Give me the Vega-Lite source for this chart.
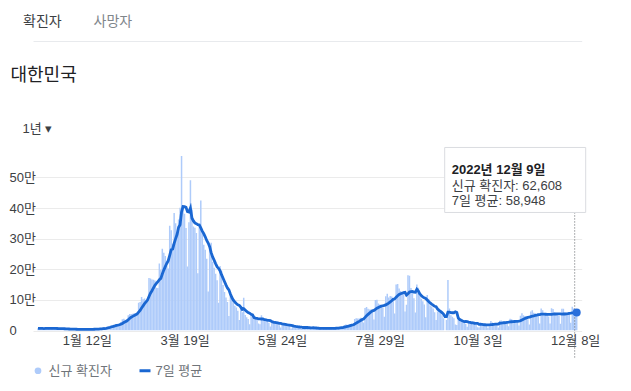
{
"$schema": "https://vega.github.io/schema/vega-lite/v6.json",
"width": 548.7, "height": 174.5,
"autosize": {"type": "none"},
"padding": {"left": 33, "top": 156, "right": 49.3, "bottom": 60.5},
"background": "white",
"config": {"view": {"stroke": null}, "font": "Liberation Sans, Noto Sans CJK KR, sans-serif"},
"title": {"text": "확진자", "anchor": "start", "frame": "group", "dx": -10, "offset": -15, "fontSize": 14, "fontWeight": "normal", "color": "#3c4043"},
"data": {"values": [
{"d":"2021-12-10","n":7022},{"d":"2021-12-11","n":7102},{"d":"2021-12-12","n":6689},{"d":"2021-12-13","n":5817},{"d":"2021-12-14","n":5567},{"d":"2021-12-15","n":7850},{"d":"2021-12-16","n":7622},{"d":"2021-12-17","n":7435},{"d":"2021-12-18","n":7314},{"d":"2021-12-19","n":6236},{"d":"2021-12-20","n":5318},{"d":"2021-12-21","n":5202},{"d":"2021-12-22","n":7456},{"d":"2021-12-23","n":6919},{"d":"2021-12-24","n":6233},{"d":"2021-12-25","n":5842},{"d":"2021-12-26","n":5419},{"d":"2021-12-27","n":4207},{"d":"2021-12-28","n":3865},{"d":"2021-12-29","n":5409},{"d":"2021-12-30","n":5037},{"d":"2021-12-31","n":4875},
{"d":"2022-01-01","n":4416},{"d":"2022-01-02","n":3833},{"d":"2022-01-03","n":3129},{"d":"2022-01-04","n":3024},{"d":"2022-01-05","n":4444},{"d":"2022-01-06","n":4126},{"d":"2022-01-07","n":3713},{"d":"2022-01-08","n":3511},{"d":"2022-01-09","n":3376},{"d":"2022-01-10","n":3005},{"d":"2022-01-11","n":3097},{"d":"2022-01-12","n":4388},{"d":"2022-01-13","n":4167},{"d":"2022-01-14","n":4542},{"d":"2022-01-15","n":4194},{"d":"2022-01-16","n":4419},{"d":"2022-01-17","n":3857},{"d":"2022-01-18","n":4071},{"d":"2022-01-19","n":5805},{"d":"2022-01-20","n":6603},{"d":"2022-01-21","n":6769},{"d":"2022-01-22","n":7009},{"d":"2022-01-23","n":7630},{"d":"2022-01-24","n":7513},{"d":"2022-01-25","n":8571},{"d":"2022-01-26","n":13012},{"d":"2022-01-27","n":14518},{"d":"2022-01-28","n":16096},{"d":"2022-01-29","n":17542},{"d":"2022-01-30","n":17528},{"d":"2022-01-31","n":18342},
{"d":"2022-02-01","n":20270},{"d":"2022-02-02","n":18343},{"d":"2022-02-03","n":22907},{"d":"2022-02-04","n":27443},{"d":"2022-02-05","n":36362},{"d":"2022-02-06","n":38691},{"d":"2022-02-07","n":35286},{"d":"2022-02-08","n":36719},{"d":"2022-02-09","n":49567},{"d":"2022-02-10","n":54122},{"d":"2022-02-11","n":53926},{"d":"2022-02-12","n":54941},{"d":"2022-02-13","n":56431},{"d":"2022-02-14","n":54619},{"d":"2022-02-15","n":57177},{"d":"2022-02-16","n":90443},{"d":"2022-02-17","n":93135},{"d":"2022-02-18","n":109831},{"d":"2022-02-19","n":102211},{"d":"2022-02-20","n":104829},{"d":"2022-02-21","n":95362},{"d":"2022-02-22","n":99573},{"d":"2022-02-23","n":171452},{"d":"2022-02-24","n":170016},{"d":"2022-02-25","n":166209},{"d":"2022-02-26","n":165890},{"d":"2022-02-27","n":163565},{"d":"2022-02-28","n":139626},
{"d":"2022-03-01","n":138993},{"d":"2022-03-02","n":219241},{"d":"2022-03-03","n":198803},{"d":"2022-03-04","n":266853},{"d":"2022-03-05","n":254327},{"d":"2022-03-06","n":243628},{"d":"2022-03-07","n":210716},{"d":"2022-03-08","n":202721},{"d":"2022-03-09","n":342446},{"d":"2022-03-10","n":327549},{"d":"2022-03-11","n":282987},{"d":"2022-03-12","n":383665},{"d":"2022-03-13","n":350190},{"d":"2022-03-14","n":309790},{"d":"2022-03-15","n":362338},{"d":"2022-03-16","n":400741},{"d":"2022-03-17","n":621328},{"d":"2022-03-18","n":407017},{"d":"2022-03-19","n":381454},{"d":"2022-03-20","n":334708},{"d":"2022-03-21","n":209169},{"d":"2022-03-22","n":353980},{"d":"2022-03-23","n":490881},{"d":"2022-03-24","n":395598},{"d":"2022-03-25","n":339514},{"d":"2022-03-26","n":335580},{"d":"2022-03-27","n":318130},{"d":"2022-03-28","n":187213},{"d":"2022-03-29","n":347554},{"d":"2022-03-30","n":424641},{"d":"2022-03-31","n":320743},
{"d":"2022-04-01","n":280273},{"d":"2022-04-02","n":264171},{"d":"2022-04-03","n":234301},{"d":"2022-04-04","n":127190},{"d":"2022-04-05","n":266135},{"d":"2022-04-06","n":286294},{"d":"2022-04-07","n":224820},{"d":"2022-04-08","n":205333},{"d":"2022-04-09","n":185566},{"d":"2022-04-10","n":164481},{"d":"2022-04-11","n":90928},{"d":"2022-04-12","n":210755},{"d":"2022-04-13","n":195419},{"d":"2022-04-14","n":148443},{"d":"2022-04-15","n":125846},{"d":"2022-04-16","n":107916},{"d":"2022-04-17","n":93001},{"d":"2022-04-18","n":47743},{"d":"2022-04-19","n":118504},{"d":"2022-04-20","n":111319},{"d":"2022-04-21","n":90867},{"d":"2022-04-22","n":81058},{"d":"2022-04-23","n":75449},{"d":"2022-04-24","n":64725},{"d":"2022-04-25","n":34370},{"d":"2022-04-26","n":76787},{"d":"2022-04-27","n":60000},{"d":"2022-04-28","n":107000},{"d":"2022-04-29","n":50568},{"d":"2022-04-30","n":43286},
{"d":"2022-05-01","n":37771},{"d":"2022-05-02","n":20084},{"d":"2022-05-03","n":51131},{"d":"2022-05-04","n":49064},{"d":"2022-05-05","n":42296},{"d":"2022-05-06","n":40064},{"d":"2022-05-07","n":38000},{"d":"2022-05-08","n":23000},{"d":"2022-05-09","n":20601},{"d":"2022-05-10","n":49933},{"d":"2022-05-11","n":43925},{"d":"2022-05-12","n":35904},{"d":"2022-05-13","n":29581},{"d":"2022-05-14","n":27446},{"d":"2022-05-15","n":25434},{"d":"2022-05-16","n":13296},{"d":"2022-05-17","n":32451},{"d":"2022-05-18","n":28130},{"d":"2022-05-19","n":26714},{"d":"2022-05-20","n":23956},{"d":"2022-05-21","n":22333},{"d":"2022-05-22","n":17191},{"d":"2022-05-23","n":9975},{"d":"2022-05-24","n":23945},{"d":"2022-05-25","n":23956},{"d":"2022-05-26","n":18816},{"d":"2022-05-27","n":16584},{"d":"2022-05-28","n":15797},{"d":"2022-05-29","n":14325},{"d":"2022-05-30","n":6126},{"d":"2022-05-31","n":16588},
{"d":"2022-06-01","n":13358},{"d":"2022-06-02","n":9896},{"d":"2022-06-03","n":12542},{"d":"2022-06-04","n":12046},{"d":"2022-06-05","n":9830},{"d":"2022-06-06","n":5022},{"d":"2022-06-07","n":6171},{"d":"2022-06-08","n":13358},{"d":"2022-06-09","n":12155},{"d":"2022-06-10","n":10174},{"d":"2022-06-11","n":8441},{"d":"2022-06-12","n":7382},{"d":"2022-06-13","n":3828},{"d":"2022-06-14","n":9437},{"d":"2022-06-15","n":9315},{"d":"2022-06-16","n":8435},{"d":"2022-06-17","n":7197},{"d":"2022-06-18","n":6068},{"d":"2022-06-19","n":5940},{"d":"2022-06-20","n":3533},{"d":"2022-06-21","n":9305},{"d":"2022-06-22","n":9341},{"d":"2022-06-23","n":7493},{"d":"2022-06-24","n":7224},{"d":"2022-06-25","n":6240},{"d":"2022-06-26","n":6252},{"d":"2022-06-27","n":3423},{"d":"2022-06-28","n":9896},{"d":"2022-06-29","n":10463},{"d":"2022-06-30","n":9595},
{"d":"2022-07-01","n":10715},{"d":"2022-07-02","n":10059},{"d":"2022-07-03","n":9528},{"d":"2022-07-04","n":6254},{"d":"2022-07-05","n":18147},{"d":"2022-07-06","n":19371},{"d":"2022-07-07","n":18511},{"d":"2022-07-08","n":19323},{"d":"2022-07-09","n":20286},{"d":"2022-07-10","n":20410},{"d":"2022-07-11","n":12693},{"d":"2022-07-12","n":37360},{"d":"2022-07-13","n":40266},{"d":"2022-07-14","n":39196},{"d":"2022-07-15","n":38882},{"d":"2022-07-16","n":41310},{"d":"2022-07-17","n":40342},{"d":"2022-07-18","n":26299},{"d":"2022-07-19","n":73589},{"d":"2022-07-20","n":76402},{"d":"2022-07-21","n":71170},{"d":"2022-07-22","n":68632},{"d":"2022-07-23","n":68551},{"d":"2022-07-24","n":65433},{"d":"2022-07-25","n":35883},{"d":"2022-07-26","n":99327},{"d":"2022-07-27","n":100285},{"d":"2022-07-28","n":88384},{"d":"2022-07-29","n":85320},{"d":"2022-07-30","n":82002},{"d":"2022-07-31","n":73589},
{"d":"2022-08-01","n":44689},{"d":"2022-08-02","n":111789},{"d":"2022-08-03","n":119922},{"d":"2022-08-04","n":107894},{"d":"2022-08-05","n":112901},{"d":"2022-08-06","n":110666},{"d":"2022-08-07","n":105507},{"d":"2022-08-08","n":55292},{"d":"2022-08-09","n":149897},{"d":"2022-08-10","n":151792},{"d":"2022-08-11","n":137241},{"d":"2022-08-12","n":128714},{"d":"2022-08-13","n":124592},{"d":"2022-08-14","n":119603},{"d":"2022-08-15","n":62078},{"d":"2022-08-16","n":84128},{"d":"2022-08-17","n":180803},{"d":"2022-08-18","n":178574},{"d":"2022-08-19","n":138812},{"d":"2022-08-20","n":128714},{"d":"2022-08-21","n":105507},{"d":"2022-08-22","n":59046},{"d":"2022-08-23","n":150267},{"d":"2022-08-24","n":139339},{"d":"2022-08-25","n":113371},{"d":"2022-08-26","n":103961},{"d":"2022-08-27","n":95604},{"d":"2022-08-28","n":85295},{"d":"2022-08-29","n":43142},{"d":"2022-08-30","n":115615},{"d":"2022-08-31","n":103961},
{"d":"2022-09-01","n":81573},{"d":"2022-09-02","n":78000},{"d":"2022-09-03","n":72000},{"d":"2022-09-04","n":60000},{"d":"2022-09-05","n":34000},{"d":"2022-09-06","n":62000},{"d":"2022-09-07","n":72000},{"d":"2022-09-08","n":58000},{"d":"2022-09-09","n":50000},{"d":"2022-09-10","n":40000},{"d":"2022-09-11","n":0},{"d":"2022-09-12","n":34000},{"d":"2022-09-13","n":165000},{"d":"2022-09-14","n":72000},{"d":"2022-09-15","n":50000},{"d":"2022-09-16","n":45000},{"d":"2022-09-17","n":40000},{"d":"2022-09-18","n":20000},{"d":"2022-09-19","n":18000},{"d":"2022-09-20","n":40000},{"d":"2022-09-21","n":36000},{"d":"2022-09-22","n":33000},{"d":"2022-09-23","n":30000},{"d":"2022-09-24","n":28000},{"d":"2022-09-25","n":22000},{"d":"2022-09-26","n":12000},{"d":"2022-09-27","n":30000},{"d":"2022-09-28","n":29000},{"d":"2022-09-29","n":26000},{"d":"2022-09-30","n":25000},
{"d":"2022-10-01","n":22000},{"d":"2022-10-02","n":19000},{"d":"2022-10-03","n":11000},{"d":"2022-10-04","n":10000},{"d":"2022-10-05","n":27000},{"d":"2022-10-06","n":24000},{"d":"2022-10-07","n":20000},{"d":"2022-10-08","n":20000},{"d":"2022-10-09","n":17000},{"d":"2022-10-10","n":9000},{"d":"2022-10-11","n":14000},{"d":"2022-10-12","n":31000},{"d":"2022-10-13","n":26000},{"d":"2022-10-14","n":24000},{"d":"2022-10-15","n":23000},{"d":"2022-10-16","n":20000},{"d":"2022-10-17","n":10000},{"d":"2022-10-18","n":32000},{"d":"2022-10-19","n":33000},{"d":"2022-10-20","n":30000},{"d":"2022-10-21","n":29000},{"d":"2022-10-22","n":28000},{"d":"2022-10-23","n":24000},{"d":"2022-10-24","n":14000},{"d":"2022-10-25","n":38000},{"d":"2022-10-26","n":37000},{"d":"2022-10-27","n":33000},{"d":"2022-10-28","n":32000},{"d":"2022-10-29","n":30000},{"d":"2022-10-30","n":27000},{"d":"2022-10-31","n":16000},
{"d":"2022-11-01","n":48000},{"d":"2022-11-02","n":56000},{"d":"2022-11-03","n":50000},{"d":"2022-11-04","n":47000},{"d":"2022-11-05","n":45000},{"d":"2022-11-06","n":37000},{"d":"2022-11-07","n":20000},{"d":"2022-11-08","n":62000},{"d":"2022-11-09","n":66000},{"d":"2022-11-10","n":58000},{"d":"2022-11-11","n":56000},{"d":"2022-11-12","n":53000},{"d":"2022-11-13","n":47000},{"d":"2022-11-14","n":23000},{"d":"2022-11-15","n":72000},{"d":"2022-11-16","n":66000},{"d":"2022-11-17","n":56000},{"d":"2022-11-18","n":55000},{"d":"2022-11-19","n":51000},{"d":"2022-11-20","n":46000},{"d":"2022-11-21","n":23000},{"d":"2022-11-22","n":73000},{"d":"2022-11-23","n":70000},{"d":"2022-11-24","n":59000},{"d":"2022-11-25","n":55000},{"d":"2022-11-26","n":52000},{"d":"2022-11-27","n":47000},{"d":"2022-11-28","n":22000},{"d":"2022-11-29","n":71000},{"d":"2022-11-30","n":71000},
{"d":"2022-12-01","n":59000},{"d":"2022-12-02","n":58000},{"d":"2022-12-03","n":57079},{"d":"2022-12-04","n":55464},{"d":"2022-12-05","n":25667},{"d":"2022-12-06","n":77604},{"d":"2022-12-07","n":71476},{"d":"2022-12-08","n":62738},{"d":"2022-12-09","n":62608}
]},
"transform": [{"window": [{"op": "mean", "field": "n", "as": "a"}], "frame": [-6, 0], "sort": [{"field": "d"}]}],
"layer": [
{"mark": {"type": "bar", "width": 1.5, "clip": true},
 "encoding": {
  "x": {"field": "d", "type": "temporal",
        "scale": {"type": "utc", "domain": [{"year": 2021, "month": 12, "date": 10, "utc": true}, {"year": 2022, "month": 12, "date": 9, "utc": true}]},
        "axis": {"orient": "bottom", "values": [{"year": 2022, "month": 1, "date": 12, "utc": true}, {"year": 2022, "month": 3, "date": 19, "utc": true}, {"year": 2022, "month": 5, "date": 24, "utc": true}, {"year": 2022, "month": 7, "date": 29, "utc": true}, {"year": 2022, "month": 10, "date": 3, "utc": true}, {"year": 2022, "month": 12, "date": 8, "utc": true}],
                 "labelExpr": "utcFormat(datum.value, '%-m월 %-d일')", "ticks": false, "tickSize": 0, "domain": false, "grid": false, "labelPadding": 4, "labelFontSize": 13, "labelColor": "#3c4043", "labelFlush": false, "labelOverlap": false,
                 "title": "대한민국", "titleX": -23, "titleY": -250.5, "titleAlign": "left", "titleAngle": 0, "titleBaseline": "alphabetic", "titleFontSize": 18, "titleFontWeight": "normal", "titleColor": "#202124"}},
  "y": {"field": "n", "type": "quantitative", "title": "1년 ▾",
        "scale": {"domain": [0, 570000], "nice": false},
        "axis": {"orient": "left", "values": [0, 100000, 200000, 300000, 400000, 500000], "labelExpr": "datum.value == 0 ? '0' : (datum.value / 10000) + '만'", "labelOverlap": false, "ticks": false, "tickSize": 0, "domain": false, "grid": true, "gridColor": "#ebebeb", "labelAlign": "left", "labelPadding": 24, "labelBaseline": "middle", "labelFontSize": 13, "labelColor": "#3c4043",
                 "titleX": -11, "titleY": -24, "titleAngle": 0, "titleAlign": "left", "titleBaseline": "alphabetic", "titleFontSize": 13, "titleFontWeight": "normal", "titleColor": "#3c4043"}},
  "color": {"datum": "신규 확진자", "type": "nominal",
            "scale": {"domain": ["신규 확진자", "7일 평균"], "range": ["#aecbfa", "#1a67d2"]},
            "legend": {"orient": "none", "legendX": -1.5, "legendY": 208, "direction": "horizontal", "title": null, "labelFontSize": 13, "labelColor": "#70757a", "symbolSize": 121, "symbolType": "circle", "labelOffset": 4, "columnPadding": 21, "padding": 0,
                       "encode": {"symbols": {"update": {
                         "shape": {"signal": "datum.value === '7일 평균' ? 'stroke' : 'circle'"},
                         "size": {"signal": "datum.value === '7일 평균' ? 121 : 45"},
                         "strokeWidth": {"signal": "datum.value === '7일 평균' ? 3 : 0"},
                         "fill": {"signal": "datum.value === '7일 평균' ? 'transparent' : '#aecbfa'"},
                         "stroke": {"value": "#1a67d2"},
                         "opacity": {"value": 1}}}}}}
 }},
{"mark": {"type": "line", "strokeWidth": 2.8},
 "encoding": {
  "x": {"field": "d", "type": "temporal", "axis": {"orient": "top", "offset": 115, "labels": false, "ticks": false, "grid": false, "domain": true, "domainColor": "#e8eaed", "domainWidth": 1,
        "title": "사망자", "titleX": 60, "titleY": -16, "titleAlign": "left", "titleAngle": 0, "titleBaseline": "alphabetic", "titleFontSize": 14, "titleFontWeight": "normal", "titleColor": "#80868b"}},
  "y": {"field": "a", "type": "quantitative", "axis": null},
  "color": {"datum": "7일 평균", "type": "nominal"}
 }},
{"transform": [
   {"filter": "utcyear(datum.d) === 2022 && utcmonth(datum.d) === 11 && utcdate(datum.d) === 9"},
   {"calculate": "utcFormat(datum.d, '%Y년 %-m월 %-d일')", "as": "t1"},
   {"calculate": "'신규 확진자: ' + format(datum.n, ',')", "as": "t2"},
   {"calculate": "'7일 평균: ' + format(round(datum.a), ',')", "as": "t3"}
 ],
 "encoding": {
  "x": {"field": "d", "type": "temporal", "axis": null},
  "y": {"field": "a", "type": "quantitative", "axis": null}
 },
 "layer": [
  {"mark": {"type": "rule", "strokeDash": [1, 2], "color": "#5f6368", "strokeWidth": 1, "xOffset": -2, "yOffset": -100, "y2Offset": 27},
   "encoding": {"y2": {"datum": 0}}},
  {"mark": {"type": "point", "filled": true, "size": 64, "color": "#2a6fdb", "opacity": 1}},
  {"mark": {"type": "rect", "fill": "white", "stroke": "#dadce0", "strokeWidth": 1, "xOffset": -132, "x2Offset": 9, "yOffset": -165, "y2Offset": -100},
   "encoding": {"x2": {"field": "d"}, "y2": {"field": "a"}}},
  {"mark": {"type": "text", "align": "left", "baseline": "alphabetic", "dx": -125, "dy": -138.5, "fontSize": 13, "fontWeight": "bold", "color": "#202124"},
   "encoding": {"text": {"field": "t1"}}},
  {"mark": {"type": "text", "align": "left", "baseline": "alphabetic", "dx": -125, "dy": -122.5, "fontSize": 13, "color": "#3c4043"},
   "encoding": {"text": {"field": "t2"}}},
  {"mark": {"type": "text", "align": "left", "baseline": "alphabetic", "dx": -125, "dy": -107.5, "fontSize": 13, "color": "#3c4043"},
   "encoding": {"text": {"field": "t3"}}}
 ]}
],
"resolve": {"axis": {"x": "independent", "y": "independent"}}
}
